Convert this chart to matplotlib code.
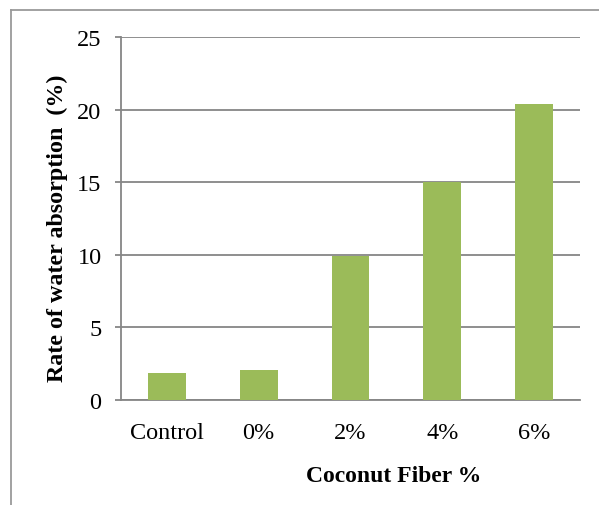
import numpy as np
import matplotlib.pyplot as plt
from matplotlib.lines import Line2D

categories = ["Control", "0%", "2%", "4%", "6%"]
absorption = [1.85, 2.1, 9.9, 15.0, 20.4]
y_ticks = [0, 5, 10, 15, 20, 25]

plt.rcParams['font.family'] = ['Liberation Serif', 'DejaVu Serif']

W, H = 599, 506
fig = plt.figure(figsize=(W / 100, H / 100), dpi=100)

# outer frame of the chart object (runs off the right and bottom edges)
frame_col = '#9a9a9a'
fig.add_artist(Line2D([11 / W, 11 / W], [1 - 11 / H, 0], transform=fig.transFigure,
                      color=frame_col, lw=1.3))
fig.add_artist(Line2D([11 / W, 1], [1 - 11 / H, 1 - 11 / H], transform=fig.transFigure,
                      color=frame_col, lw=1.3))

ax = fig.add_axes([121 / W, (H - 401) / H, 459 / W, 363 / H])

grid_col = '#868686'
x = np.arange(len(categories))
ax.bar(x, absorption, width=0.41, color='#9BBB59', zorder=3)

ax.set_xlim(-0.5, len(categories) - 0.5)
ax.set_ylim(0, 25)
ax.set_yticks(y_ticks)
ax.set_xticks(x)
ax.set_xticklabels(categories)

ax.yaxis.grid(True, color=grid_col, lw=1.3, zorder=0)
ax.set_axisbelow(True)
for s in ['top', 'right']:
    ax.spines[s].set_visible(False)
ax.spines['left'].set_color(grid_col)
ax.spines['bottom'].set_color(grid_col)
ax.spines['left'].set_linewidth(1.3)
ax.spines['bottom'].set_linewidth(1.3)

ax.tick_params(axis='y', direction='out', length=4, width=1.3, color=grid_col,
               pad=10, labelsize=17.5)
ax.tick_params(axis='x', length=0, pad=16, labelsize=17.5)

fig.text(394 / W, 1 - 477 / H, 'Coconut Fiber %', ha='center', va='center',
         fontsize=17, fontweight='bold')
fig.text(57 / W, 1 - 228 / H, 'Rate of water absorption  (%)', ha='center', va='center',
         rotation=90, fontsize=17.3, fontweight='bold')

fig.savefig('out.png', dpi=100)
